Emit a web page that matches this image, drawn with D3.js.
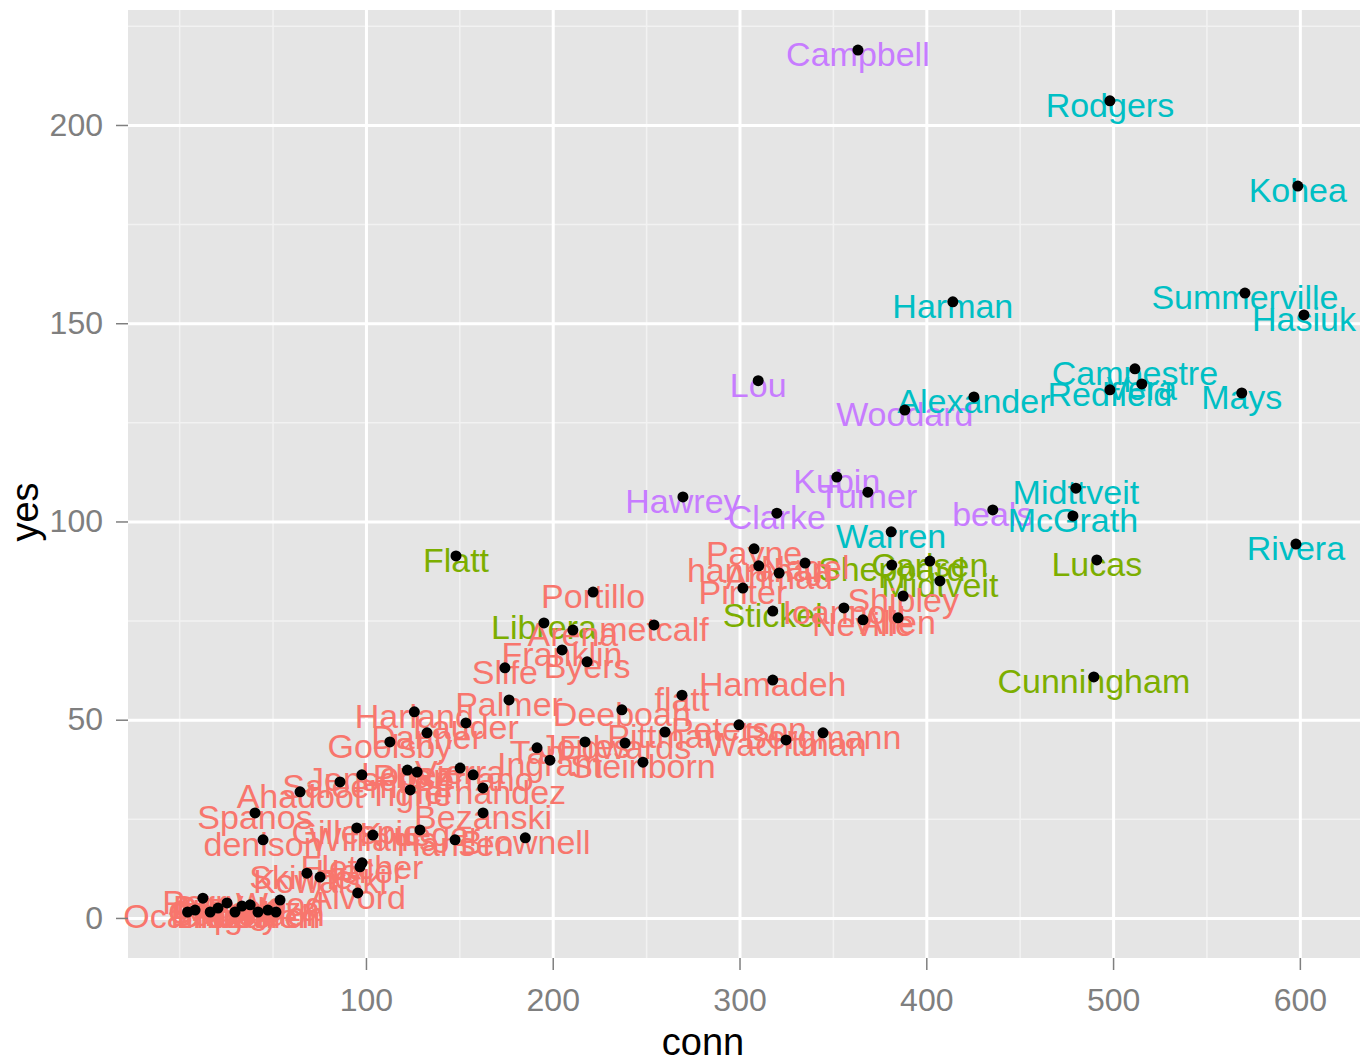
<!DOCTYPE html>
<html>
<head>
<meta charset="utf-8">
<script src="https://cdn.jsdelivr.net/npm/d3@7/dist/d3.min.js"></script>
<style>
	body { margin: 0; background: #fff; }
	svg text { font-family: "Liberation Sans", Arial, sans-serif; }
</style>
</head>
<body>
<div id="scatter-01"></div>
<script>

// ------------------------ data ------------------------------

var names = [
	"Campbell", "Lou", "Woodard", "Hawrey", "Clarke", "Kubin", "Turner", "beals",
	"Rodgers", "Kohea", "Harman", "Summerville", "Hasiuk", "Campestre", "Redfield", "Vera",
	"Alexander", "Mays", "Midttveit", "McGrath", "Warren", "Rivera",
	"Flatt", "Librera", "Stickel", "Sheppard", "Carlsen", "Midtveit", "Lucas", "Cunningham",
	"Payne", "hanrahan", "Ahmad", "Nagel", "Pinter", "Ioannou", "Neville", "Allen", "Shipley",
	"Portillo", "metcalf", "Arena", "Franklin", "Byers", "Slife", "Palmer", "flatt", "Hamadeh",
	"Harland", "Lauder", "Danner", "Goolsby", "Deeboah", "Pittman", "Peterson", "Wachtman",
	"Bergmann", "Tan", "Jones", "Edwards", "Steinborn", "Ingram", "Saleem", "Ahadoot", "Tighe",
	"Hernandez", "Jensen", "Lopez", "Vierra", "Serrano", "Pham", "Spanos", "denison", "Gillespie",
	"Williams", "Krueger", "Hansen", "Bezanski", "Brownell", "Fletcher", "Heller", "Skinner",
	"Kowalski", "Alvord", "Wood", "Ocampo", "Bui", "Perry", "Diaz", "Chung", "Dunlap", "Rossi",
	"Park", "Mendoza", "Nguyen", "Gordon", "Burch"
];

var conn = [
	363.4, 310.0, 388.5, 269.7, 320.0, 352.1, 368.7, 435.6,
	498.3, 598.9, 414.2, 570.6, 602.2, 511.7, 498.3, 515.4,
	425.5, 568.9, 480.1, 478.5, 381.2, 597.9,
	148.2, 195.3, 317.8, 381.5, 401.9, 407.3, 491.3, 489.7,
	307.8, 310.3, 321.2, 335.1, 301.8, 355.9, 366.1, 384.9, 387.6,
	221.6, 254.2, 210.8, 205.0, 218.4, 174.4, 176.6, 269.2, 317.8,
	125.9, 153.5, 132.7, 112.8, 237.0, 260.1, 299.7, 324.9,
	344.7, 191.6, 217.3, 238.7, 248.3, 198.5, 86.1, 64.7, 123.7,
	162.6, 97.8, 122.2, 150.4, 157.4, 127.4, 40.6, 44.9, 95.1,
	103.7, 128.9, 147.7, 162.7, 185.3, 97.9, 96.8, 68.4,
	75.4, 95.6, 54.0, 4.5, 8.5, 12.7, 16.6, 20.8, 25.6, 29.9,
	33.6, 38.0, 42.2, 47.5, 51.8
];

var yes = [
	218.9, 135.5, 128.1, 106.2, 102.1, 111.2, 107.4, 102.9,
	206.1, 184.6, 155.4, 157.6, 152.1, 138.5, 133.2, 134.7,
	131.4, 132.4, 108.4, 101.4, 97.4, 94.3,
	91.3, 74.4, 77.4, 89.0, 90.0, 85.0, 90.3, 60.8,
	93.1, 88.8, 87.0, 89.5, 83.2, 78.2, 75.2, 75.7, 81.2,
	82.2, 73.9, 72.6, 67.6, 64.6, 63.1, 55.0, 56.2, 60.0,
	52.0, 49.2, 46.7, 44.4, 52.5, 46.9, 48.7, 44.9,
	46.7, 42.9, 44.4, 44.1, 39.3, 39.8, 34.3, 31.8, 32.3,
	32.8, 36.1, 37.3, 37.8, 36.1, 36.8, 26.5, 19.7, 22.7,
	20.9, 22.2, 19.7, 26.5, 20.2, 13.9, 12.9, 11.3,
	10.3, 6.3, 4.5, 1.5, 2.0, 5.0, 1.5, 2.5, 3.8, 1.5,
	3.0, 3.3, 1.5, 2.0, 1.5
];

var group = [
	"D", "D", "D", "D", "D", "D", "D", "D",
	"C", "C", "C", "C", "C", "C", "C", "C",
	"C", "C", "C", "C", "C", "C",
	"B", "B", "B", "B", "B", "B", "B", "B",
	"A", "A", "A", "A", "A", "A", "A", "A", "A",
	"A", "A", "A", "A", "A", "A", "A", "A", "A",
	"A", "A", "A", "A", "A", "A", "A", "A",
	"A", "A", "A", "A", "A", "A", "A", "A", "A",
	"A", "A", "A", "A", "A", "A", "A", "A", "A",
	"A", "A", "A", "A", "A", "A", "A", "A",
	"A", "A", "A", "A", "A", "A", "A", "A", "A", "A",
	"A", "A", "A", "A", "A"
];

var groupKeys = ["A", "B", "C", "D"];
var groupColours = ["#F8766D", "#7CAE00", "#00BFC4", "#C77CFF"];

var xTicks = [100, 200, 300, 400, 500, 600];
var xMinor = [0, 50, 150, 250, 350, 450, 550];
var yTicks = [0, 50, 100, 150, 200];
var yMinor = [25, 75, 125, 175, 225];

// axis limits (data range plus the usual 5% padding)
var xDomain = [-27.4, 632.2];
var yDomain = [-10.1, 229.0];


// ------------------------ #scatter-01 ------------------------------

var build_scatter_01 = function() {

	var svgWidth = 1362, svgHeight = 1064;
	var margin = { top: 10, right: 2, bottom: 106, left: 128 },
		width = svgWidth - margin.left - margin.right,
		height = svgHeight - margin.top - margin.bottom;

	var rows = names.map(function(n, i) {
		return { name: n, conn: conn[i], yes: yes[i], group: group[i] };
	});

	// set the ranges
	var x = d3.scaleLinear().domain(xDomain).range([0, width]);
	var y = d3.scaleLinear().domain(yDomain).range([height, 0]);
	var colour = d3.scaleOrdinal().domain(groupKeys).range(groupColours);

	var svg = d3.select("#scatter-01").append("svg")
			.attr("width", svgWidth)
			.attr("height", svgHeight)
				.append("g")
				.attr("transform", "translate(" + margin.left + "," + margin.top + ")");

	// panel background
	svg.append("rect")
		.attr("width", width)
		.attr("height", height)
		.attr("fill", "#E5E5E5");

	// minor grid
	var gridMinorX = svg.append("g")
		.attr("transform", "translate(0," + height + ")")
		.call(d3.axisBottom(x).tickValues(xMinor).tickSize(-height).tickFormat(""));
	gridMinorX.selectAll("line").attr("stroke", "#F2F2F2").attr("stroke-width", 1.5);
	gridMinorX.select(".domain").remove();

	var gridMinorY = svg.append("g")
		.call(d3.axisLeft(y).tickValues(yMinor).tickSize(-width).tickFormat(""));
	gridMinorY.selectAll("line").attr("stroke", "#F2F2F2").attr("stroke-width", 1.5);
	gridMinorY.select(".domain").remove();

	// major grid
	var gridX = svg.append("g")
		.attr("transform", "translate(0," + height + ")")
		.call(d3.axisBottom(x).tickValues(xTicks).tickSize(-height).tickFormat(""));
	gridX.selectAll("line").attr("stroke", "#fff").attr("stroke-width", 3);
	gridX.select(".domain").remove();

	var gridY = svg.append("g")
		.call(d3.axisLeft(y).tickValues(yTicks).tickSize(-width).tickFormat(""));
	gridY.selectAll("line").attr("stroke", "#fff").attr("stroke-width", 3);
	gridY.select(".domain").remove();

	// labels
	svg.append("g").selectAll(".label")
		.data(rows)
		.enter().append("text")
			.attr("class", "label")
			.attr("x", function(d) { return x(d.conn); })
			.attr("y", function(d) { return y(d.yes); })
			.attr("dy", "0.47em")
			.attr("text-anchor", "middle")
			.attr("font-size", 34)
			.attr("fill", function(d) { return colour(d.group); })
			.text(function(d) { return d.name; });

	// points
	svg.append("g").selectAll(".dot")
		.data(rows)
		.enter().append("circle")
			.attr("class", "dot")
			.attr("cx", function(d) { return x(d.conn); })
			.attr("cy", function(d) { return y(d.yes); })
			.attr("r", 5.5)
			.attr("fill", "#000");

	// x axis
	var axisX = svg.append("g")
		.attr("transform", "translate(0," + height + ")")
		.call(d3.axisBottom(x).tickValues(xTicks).tickSize(12).tickPadding(18));
	axisX.select(".domain").remove();
	axisX.selectAll("line").attr("stroke", "#7F7F7F").attr("stroke-width", 1.5);
	axisX.selectAll("text").attr("font-size", 32).attr("fill", "#7F7F7F");

	// y axis
	var axisY = svg.append("g")
		.call(d3.axisLeft(y).tickValues(yTicks).tickSize(12).tickPadding(13));
	axisY.select(".domain").remove();
	axisY.selectAll("line").attr("stroke", "#7F7F7F").attr("stroke-width", 1.5);
	axisY.selectAll("text").attr("font-size", 32).attr("fill", "#7F7F7F");

	// axis titles
	svg.append("text")
		.attr("x", 703 - margin.left)
		.attr("y", 1042 - margin.top)
		.attr("dy", "0.35em")
		.attr("text-anchor", "middle")
		.attr("font-size", 38)
		.attr("fill", "#000")
		.text("conn");

	svg.append("text")
		.attr("transform", "translate(" + (25 - margin.left) + "," + (512 - margin.top) + ") rotate(-90)")
		.attr("dy", "0.35em")
		.attr("text-anchor", "middle")
		.attr("font-size", 38)
		.attr("fill", "#000")
		.text("yes");

}

build_scatter_01();

</script>
</body>
</html>
